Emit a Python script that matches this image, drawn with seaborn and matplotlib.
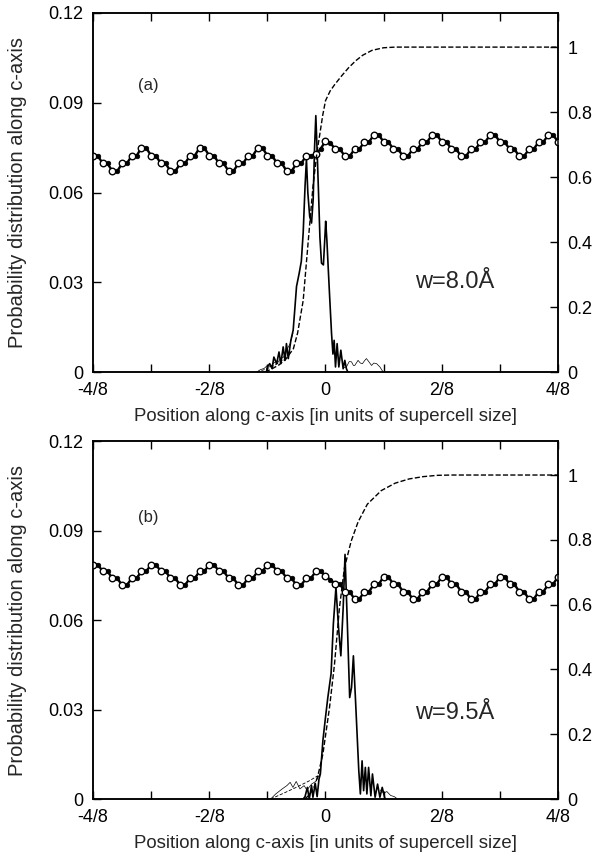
import numpy as np
import matplotlib
matplotlib.use("Agg")
import matplotlib.pyplot as plt
import seaborn as sns

# ---- data ----
# atom chain (one marker every 1/96 of the cell)
chain_x = np.linspace(-0.5, 0.5, 97)
chain_a = [
    0.0723, 0.0723, 0.0697, 0.0697, 0.0671, 0.0671, 0.0697, 0.0697, 0.0723, 0.0723, 0.0749, 0.0749,
    0.0723, 0.0723, 0.0697, 0.0697, 0.0671, 0.0671, 0.0697, 0.0697, 0.0723, 0.0723, 0.0749, 0.0749,
    0.0723, 0.0723, 0.0697, 0.0697, 0.0671, 0.0671, 0.0697, 0.0697, 0.0723, 0.0723, 0.0749, 0.0749,
    0.0723, 0.0723, 0.0697, 0.0697, 0.0671, 0.0671, 0.0697, 0.0697, 0.0723, 0.0723, 0.0728, 0.0746,
    0.0772, 0.0766, 0.0745, 0.0745, 0.0721, 0.0721, 0.0745, 0.0745, 0.0769, 0.0769, 0.0793, 0.0793,
    0.0769, 0.0769, 0.0745, 0.0745, 0.0721, 0.0721, 0.0745, 0.0745, 0.0769, 0.0769, 0.0793, 0.0793,
    0.0769, 0.0769, 0.0745, 0.0745, 0.0721, 0.0721, 0.0745, 0.0745, 0.0769, 0.0769, 0.0793, 0.0793,
    0.0769, 0.0769, 0.0745, 0.0745, 0.0721, 0.0721, 0.0745, 0.0745, 0.0769, 0.0769, 0.0793, 0.0793,
    0.0769,
]
chain_b = [
    0.0786, 0.0786, 0.0763, 0.0763, 0.0740, 0.0740, 0.0717, 0.0717, 0.0740, 0.0740, 0.0763, 0.0763,
    0.0786, 0.0786, 0.0763, 0.0763, 0.0740, 0.0740, 0.0717, 0.0717, 0.0740, 0.0740, 0.0763, 0.0763,
    0.0786, 0.0786, 0.0763, 0.0763, 0.0740, 0.0740, 0.0717, 0.0717, 0.0740, 0.0740, 0.0763, 0.0763,
    0.0786, 0.0786, 0.0763, 0.0763, 0.0740, 0.0740, 0.0717, 0.0717, 0.0740, 0.0740, 0.0763, 0.0763,
    0.0748, 0.0735, 0.0722, 0.0720, 0.0695, 0.0695, 0.0670, 0.0670, 0.0695, 0.0695, 0.0720, 0.0720,
    0.0745, 0.0745, 0.0720, 0.0720, 0.0695, 0.0695, 0.0670, 0.0670, 0.0695, 0.0695, 0.0720, 0.0720,
    0.0745, 0.0745, 0.0720, 0.0720, 0.0695, 0.0695, 0.0670, 0.0670, 0.0695, 0.0695, 0.0720, 0.0720,
    0.0745, 0.0745, 0.0720, 0.0720, 0.0695, 0.0695, 0.0670, 0.0670, 0.0695, 0.0695, 0.0720, 0.0720,
    0.0745,
]

# panel (a): probability distributions (left axis)
dist_a_x = [-0.127, -0.125, -0.120, -0.115, -0.111, -0.105, -0.100, -0.096, -0.091, -0.087,
            -0.084, -0.080, -0.0745, -0.0695, -0.066, -0.0623, -0.0566, -0.052, -0.048, -0.044,
            -0.041, -0.038, -0.034, -0.030, -0.0265, -0.0235, -0.0208, -0.018, -0.015, -0.012,
            -0.0086, -0.0045, -0.001, 0.0004, 0.003, 0.0057, 0.009, 0.013, 0.016, 0.0186,
            0.0215, 0.025, 0.0287, 0.033, 0.038, 0.0415, 0.045, 0.048]
dist_a_y = [0.0, 0.0017, 0.0028, 0.0012, 0.005, 0.0028, 0.0067, 0.0028, 0.0084, 0.0039,
            0.0095, 0.0045, 0.0106, 0.014, 0.021, 0.0286, 0.033, 0.037, 0.0465, 0.062,
            0.0711, 0.060, 0.052, 0.0498, 0.0577, 0.075, 0.0857, 0.074, 0.060, 0.045,
            0.0364, 0.0358, 0.046, 0.0504, 0.044, 0.0353, 0.025, 0.0129, 0.006, 0.0106,
            0.0017, 0.0095, 0.0017, 0.0073, 0.0011, 0.0039, 0.0011, 0.0]
thin_a_lx = [-0.148, -0.140, -0.132, -0.125, -0.118, -0.110, -0.104, -0.097, -0.090, -0.083, -0.076, -0.070]
thin_a_ly = [0.0, 0.0008, 0.0012, 0.0022, 0.0018, 0.0032, 0.0028, 0.0045, 0.005, 0.0075, 0.0095, 0.013]
thin_a_rx = [0.040, 0.045, 0.051, 0.056, 0.060, 0.063, 0.070, 0.075, 0.0795, 0.084, 0.088,
             0.093, 0.099, 0.104, 0.110, 0.117, 0.124]
thin_a_ry = [0.0015, 0.0017, 0.0035, 0.0034, 0.0022, 0.0022, 0.0039, 0.003, 0.0028, 0.0038, 0.0045,
             0.0035, 0.0022, 0.003, 0.0028, 0.0017, 0.0]
# panel (a): integrated distributions (right axis)
cum_a_x = [-0.130, -0.115, -0.100, -0.085, -0.069, -0.060, -0.048, -0.037, -0.027, -0.018, -0.012,
           -0.006, 0.0, 0.01, 0.02, 0.035, 0.05, 0.065, 0.08, 0.10, 0.125, 0.15, 0.5]
cum_a_y = [0.0, 0.01, 0.022, 0.04, 0.072, 0.12, 0.22, 0.405, 0.57, 0.68, 0.734,
           0.79, 0.835, 0.865, 0.885, 0.912, 0.937, 0.958, 0.975, 0.99, 0.998, 1.0, 1.0]
cum_thin_a_x = [-0.148, -0.13, -0.11, -0.09, -0.075]
cum_thin_a_y = [0.0, 0.008, 0.02, 0.038, 0.06]

# panel (b)
dist_b_x = [-0.048, -0.044, -0.039, -0.035, -0.030, -0.027, -0.022, -0.018, -0.014, -0.011,
            -0.0056, 0.0, 0.005, 0.012, 0.0169, 0.0225, 0.028, 0.033, 0.038, 0.042,
            0.047, 0.052, 0.056, 0.060, 0.0646, 0.0716, 0.075, 0.0787, 0.082, 0.0857,
            0.089, 0.0927, 0.0976, 0.101, 0.1067, 0.112, 0.117, 0.122, 0.128]
dist_b_y = [0.0, 0.0008, 0.0039, 0.0, 0.0045, 0.0006, 0.0052, 0.0008, 0.0067, 0.0084,
            0.0196, 0.0274, 0.034, 0.042, 0.0587, 0.071, 0.0575, 0.048, 0.064, 0.082,
            0.0587, 0.034, 0.0374, 0.048, 0.033, 0.0095, 0.0017, 0.0128, 0.0028, 0.0106,
            0.0017, 0.0106, 0.0011, 0.0084, 0.0006, 0.005, 0.0006, 0.0039, 0.0]
thin_b_lx = [-0.118, -0.107, -0.093, -0.083, -0.076, -0.070, -0.063, -0.055, -0.046, -0.040,
             -0.030, -0.020, -0.012]
thin_b_ly = [0.0, 0.0017, 0.0034, 0.0045, 0.0056, 0.0039, 0.0059, 0.0034, 0.0045, 0.003,
             0.005, 0.006, 0.0085]
thin_b_rx = [0.118, 0.125, 0.132, 0.140, 0.148, 0.155]
thin_b_ry = [0.003, 0.002, 0.0025, 0.0012, 0.0008, 0.0]
cum_b_x = [-0.045, -0.035, -0.025, -0.0164, -0.0057, 0.0086, 0.0193, 0.030, 0.0407, 0.055,
           0.07, 0.09, 0.12, 0.15, 0.18, 0.21, 0.24, 0.27, 0.5]
cum_b_y = [0.0, 0.012, 0.035, 0.072, 0.138, 0.282, 0.415, 0.59, 0.713, 0.795,
           0.855, 0.91, 0.952, 0.975, 0.988, 0.995, 0.999, 1.0, 1.0]
cum_thin_b_x = [-0.118, -0.09, -0.06, -0.035, -0.0164]
cum_thin_b_y = [0.0, 0.018, 0.038, 0.056, 0.072]

x_ticks = [-4/8, -3/8, -2/8, -1/8, 0, 1/8, 2/8, 3/8, 4/8]
x_labels = ["-4/8", "", "-2/8", "", "0", "", "2/8", "", "4/8"]
left_ticks = [0, 0.03, 0.06, 0.09, 0.12]
left_labels = ["0", "0.03", "0.06", "0.09", "0.12"]
right_ticks = [0, 0.2, 0.4, 0.6, 0.8, 1.0]
right_labels = ["0", "0.2", "0.4", "0.6", "0.8", "1"]

sns.set_theme(style="ticks")
plt.rcParams["font.family"] = ["Liberation Sans", "DejaVu Sans"]


def style_axes(ax, ax2):
    ax.set_xlim(-0.5, 0.5)
    ax.set_ylim(0, 0.12)
    ax2.set_ylim(0, 1.105)
    ax.set_xticks(x_ticks)
    ax.set_xticklabels(x_labels)
    ax.set_yticks(left_ticks)
    ax.set_yticklabels(left_labels)
    ax2.set_yticks(right_ticks)
    ax2.set_yticklabels(right_labels)
    ax.tick_params(axis="x", direction="in", top=True, bottom=True, length=6, width=1,
                   labelsize=13, pad=7, colors="black")
    ax.tick_params(axis="y", direction="in", left=True, right=False, length=6, width=1,
                   labelsize=13, pad=7, colors="black")
    ax2.tick_params(axis="y", direction="in", right=True, length=6, width=1,
                    labelsize=13, pad=7, colors="black")
    for a in (ax, ax2):
        for sp in a.spines.values():
            sp.set_visible(True)
            sp.set_linewidth(1.1)
            sp.set_color("black")
    ax.set_xlabel("Position along c-axis [in units of supercell size]", fontsize=13.4, labelpad=7)
    ax.set_ylabel("Probability distribution along c-axis", fontsize=14.5)
    ax.yaxis.set_label_coords(-0.142, 0.5)
    ax2.set_ylabel("")


def draw_chain(ax, ys):
    ys = np.array(ys)
    sns.lineplot(x=chain_x, y=ys, ax=ax, color="black", lw=1.7, zorder=4)
    sns.scatterplot(x=chain_x[0::2], y=ys[0::2], ax=ax, s=22, facecolor="white",
                    edgecolor="black", linewidth=1.0, zorder=5)
    sns.scatterplot(x=chain_x[1::2], y=ys[1::2], ax=ax, s=11, color="black",
                    edgecolor="black", linewidth=0.5, zorder=5)


def draw_panel(ax, dx, dy, tlx, tly, trx, try_, cx, cy, ctx, cty, chain):
    ax2 = ax.twinx()
    sns.lineplot(x=tlx, y=tly, ax=ax, color="black", lw=0.5)
    sns.lineplot(x=trx, y=try_, ax=ax, color="black", lw=0.5)
    sns.lineplot(x=dx, y=dy, ax=ax, color="black", lw=1.2)
    draw_chain(ax, chain)
    sns.lineplot(x=ctx, y=cty, ax=ax2, color="black", lw=0.6, dashes=(4, 2))
    sns.lineplot(x=cx, y=cy, ax=ax2, color="black", lw=1.0, linestyle="--", dashes=(5, 2.5))
    style_axes(ax, ax2)
    return ax2


fig = plt.figure(figsize=(5.95, 8.6), dpi=100)
ax_a = fig.add_axes([0.1563, 0.5674, 0.7815, 0.4175])
ax_b = fig.add_axes([0.1563, 0.0709, 0.7815, 0.4163])

draw_panel(ax_a, dist_a_x, dist_a_y, thin_a_lx, thin_a_ly, thin_a_rx, thin_a_ry,
           cum_a_x, cum_a_y, cum_thin_a_x, cum_thin_a_y, chain_a)
draw_panel(ax_b, dist_b_x, dist_b_y, thin_b_lx, thin_b_ly, thin_b_rx, thin_b_ry,
           cum_b_x, cum_b_y, cum_thin_b_x, cum_thin_b_y, chain_b)

ax_a.text(-0.382, 0.0958, "(a)", fontsize=12, ha="center", va="center")
ax_a.text(0.2785, 0.030, "w=8.0Å", fontsize=17, ha="center", va="center")
ax_b.text(-0.382, 0.0945, "(b)", fontsize=12, ha="center", va="center")
ax_b.text(0.2785, 0.0288, "w=9.5Å", fontsize=17, ha="center", va="center")

fig.savefig("out.png", dpi=100)
